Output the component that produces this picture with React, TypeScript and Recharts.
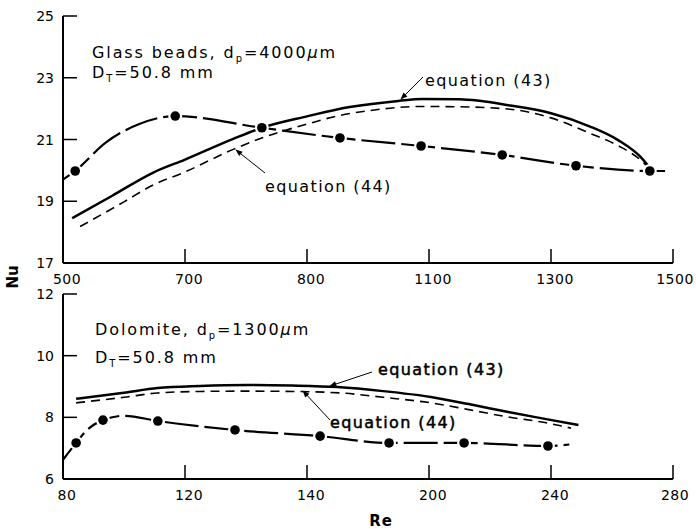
import React from "react";
import { ComposedChart, Line, Scatter, XAxis, YAxis } from "recharts";

// ---- top panel: glass beads, dp = 4000 um ----
const glassTicksX = [500, 700, 900, 1100, 1300, 1500];
const glassTickLabels = ["500", "700", "800", "1100", "1300", "1500"];
const glassTicksY = [17, 19, 21, 23, 25];

const glassEq43Re = [515, 580, 648, 700, 779, 826, 900, 970, 1050, 1089, 1150, 1233, 1300, 1364, 1410, 1446, 1462];
const glassEq43Nu = [18.45, 19.17, 19.93, 20.35, 21.02, 21.38, 21.75, 22.05, 22.25, 22.31, 22.3, 22.1, 21.85, 21.42, 20.98, 20.45, 20.08];

const glassEq44Re = [528, 600, 647, 700, 779, 826, 900, 954, 1000, 1089, 1150, 1233, 1300, 1364, 1410, 1446, 1462];
const glassEq44Nu = [18.18, 18.98, 19.52, 19.95, 20.68, 21.05, 21.5, 21.78, 21.93, 22.07, 22.06, 21.98, 21.7, 21.2, 20.8, 20.35, 20.05];

const glassExpRe = [500, 520, 570, 625, 684, 826, 954, 1087, 1220, 1341, 1462, 1487];
const glassExpNu = [19.7, 19.98, 20.9, 21.5, 21.76, 21.38, 21.05, 20.79, 20.5, 20.15, 19.98, 19.98];
const glassDotRe = [520, 684, 826, 954, 1087, 1220, 1341, 1462];
const glassDotNu = [19.98, 21.76, 21.38, 21.05, 20.79, 20.5, 20.15, 19.98];

// ---- bottom panel: dolomite, dp = 1300 um ----
const doloTicksX = [80, 120, 160, 200, 240, 280];
const doloTickLabels = ["80", "120", "140", "200", "240", "280"];
const doloTicksY = [6, 8, 10, 12];

const doloEq43Re = [84.3, 100, 111, 125, 140.6, 155, 170, 185, 200.6, 213, 226, 238, 249];
const doloEq43Nu = [8.6, 8.8, 8.95, 9.02, 9.05, 9.03, 8.98, 8.85, 8.66, 8.43, 8.17, 7.95, 7.75];

const doloEq44Re = [84.3, 100, 111, 125, 140, 155, 171, 185, 200.6, 213, 226, 238, 246.6];
const doloEq44Nu = [8.47, 8.65, 8.79, 8.84, 8.85, 8.84, 8.79, 8.65, 8.47, 8.25, 8.01, 7.83, 7.65];

const doloExpRe = [80, 84.3, 88, 93.1, 100, 111.1, 136.4, 164.3, 186.9, 211.5, 239, 246];
const doloExpNu = [6.62, 7.17, 7.6, 7.91, 8.05, 7.88, 7.59, 7.39, 7.17, 7.17, 7.07, 7.12];
const doloDotRe = [84.3, 93.1, 111.1, 136.4, 164.3, 186.9, 211.5, 239];
const doloDotNu = [7.17, 7.91, 7.88, 7.59, 7.39, 7.17, 7.17, 7.07];

const pts = (xs: number[], ys: number[]) => xs.map((re, i) => ({ re, nu: ys[i] }));

const FONT = "'DejaVu Sans', sans-serif";

const makeXTick = (ticks: number[], labels: string[]) => (props: any) => {
  const { x, y, payload } = props;
  const i = ticks.indexOf(payload.value);
  const last = i === ticks.length - 1;
  return (
    <g>
      {i > 0 && <line x1={x} y1={y} x2={x} y2={y - 14} stroke="#000" strokeWidth={1.5} />}
      <text x={last ? x + 2 : x + 4} y={y + 21} textAnchor="middle" fontSize={14} fontFamily={FONT} letterSpacing={0.5} fill="#000">
        {labels[i]}
      </text>
    </g>
  );
};

const YTick = (props: any) => {
  const { x, y, payload } = props;
  return (
    <g>
      <line x1={x} y1={y} x2={x + 14} y2={y} stroke="#000" strokeWidth={1.5} />
      <text x={x - 9} y={y + 5} textAnchor="end" fontSize={14} fontFamily={FONT} fill="#000">
        {payload.value}
      </text>
    </g>
  );
};

const Dot = (p: any) => (
  <g>
    <circle cx={p.cx} cy={p.cy} r={7} fill="#fff" />
    <circle cx={p.cx} cy={p.cy} r={4.8} fill="#000" />
  </g>
);

const axisLine = { stroke: "#000", strokeWidth: 2 };

interface PanelProps {
  top: number;
  height: number;
  marginTop: number;
  xAxisHeight: number;
  domainX: number[];
  ticksX: number[];
  labelsX: string[];
  domainY: number[];
  ticksY: number[];
  eq43: { re: number; nu: number }[];
  eq44: { re: number; nu: number }[];
  exp: { re: number; nu: number }[];
  dots: { re: number; nu: number }[];
}

const Panel = (p: PanelProps) => (
  <div style={{ position: "absolute", left: 0, top: p.top }}>
    <ComposedChart width={696} height={p.height} margin={{ top: p.marginTop, right: 23, left: 0, bottom: 0 }}>
      <XAxis
        dataKey="re"
        type="number"
        domain={p.domainX}
        ticks={p.ticksX}
        height={p.xAxisHeight}
        tickSize={0}
        tickMargin={0}
        tickLine={false}
        axisLine={axisLine}
        tick={makeXTick(p.ticksX, p.labelsX)}
        interval={0}
      />
      <YAxis
        dataKey="nu"
        type="number"
        domain={p.domainY}
        ticks={p.ticksY}
        width={63}
        tickSize={0}
        tickMargin={0}
        tickLine={false}
        axisLine={axisLine}
        tick={YTick}
        interval={0}
      />
      <Line data={p.eq43} dataKey="nu" type="monotone" stroke="#000" strokeWidth={2.5} dot={false} isAnimationActive={false} />
      <Line data={p.eq44} dataKey="nu" type="monotone" stroke="#000" strokeWidth={1.6} strokeDasharray="9 6" dot={false} isAnimationActive={false} />
      <Line data={p.exp} dataKey="nu" type="monotone" stroke="#000" strokeWidth={2.2} strokeDasharray="34 6" dot={false} isAnimationActive={false} />
      <Scatter data={p.dots} dataKey="nu" shape={Dot} isAnimationActive={false} />
    </ComposedChart>
  </div>
);

const Sub = ({ children }: { children: string }) => (
  <tspan fontSize={10} dy={4}>{children}</tspan>
);

export default function App() {
  const txt = { fontFamily: FONT, fontSize: 16, letterSpacing: 1.9, fill: "#000" };
  const eqTxt = { fontFamily: FONT, fontSize: 16, letterSpacing: 1.4, fill: "#000" };
  const boldish = { stroke: "#000", strokeWidth: 0.5 };
  return (
    <div style={{ position: "absolute", left: 0, top: 0, width: 696, height: 529, background: "#fff" }}>
      <Panel
        top={0}
        height={290}
        marginTop={16}
        xAxisHeight={27}
        domainX={[500, 1500]}
        ticksX={glassTicksX}
        labelsX={glassTickLabels}
        domainY={[17, 25]}
        ticksY={glassTicksY}
        eq43={pts(glassEq43Re, glassEq43Nu)}
        eq44={pts(glassEq44Re, glassEq44Nu)}
        exp={pts(glassExpRe, glassExpNu)}
        dots={pts(glassDotRe, glassDotNu)}
      />
      <Panel
        top={282}
        height={247}
        marginTop={12}
        xAxisHeight={50}
        domainX={[80, 280]}
        ticksX={doloTicksX}
        labelsX={doloTickLabels}
        domainY={[6, 12]}
        ticksY={doloTicksY}
        eq43={pts(doloEq43Re, doloEq43Nu)}
        eq44={pts(doloEq44Re, doloEq44Nu)}
        exp={pts(doloExpRe, doloExpNu)}
        dots={pts(doloDotRe, doloDotNu)}
      />
      <svg width={696} height={529} style={{ position: "absolute", left: 0, top: 0, pointerEvents: "none" }}>
        <defs>
          <marker id="ah" viewBox="0 0 10 10" refX="9" refY="5" markerWidth="9" markerHeight="7" orient="auto">
            <path d="M0,1 L10,5 L0,9 z" fill="#000" />
          </marker>
        </defs>
        {/* top panel labels */}
        <text x={92} y={58} {...txt}>
          Glass beads, d<Sub>p</Sub>
          <tspan dy={-4}>=4000</tspan>
          <tspan fontStyle="italic">μ</tspan>m
        </text>
        <text x={92} y={78} {...txt}>
          D<Sub>T</Sub>
          <tspan dy={-4}>=50.8 mm</tspan>
        </text>
        <text x={425} y={86} {...eqTxt}>equation (43)</text>
        <line x1={423} y1={77} x2={401} y2={99} stroke="#000" strokeWidth={1} markerEnd="url(#ah)" />
        <text x={265} y={192} {...eqTxt}>equation (44)</text>
        <line x1={265} y1={173} x2={236} y2={150} stroke="#000" strokeWidth={1} markerEnd="url(#ah)" />

        {/* bottom panel labels */}
        <text x={95} y={335} {...txt}>
          Dolomite, d<Sub>p</Sub>
          <tspan dy={-4}>=1300</tspan>
          <tspan fontStyle="italic">μ</tspan>m
        </text>
        <text x={95} y={363} {...txt}>
          D<Sub>T</Sub>
          <tspan dy={-4}>=50.8 mm</tspan>
        </text>
        <text x={378} y={375} {...eqTxt} {...boldish}>equation (43)</text>
        <line x1={372} y1={372} x2={330} y2={386} stroke="#000" strokeWidth={1} markerEnd="url(#ah)" />
        <text x={330} y={428} {...eqTxt} {...boldish}>equation (44)</text>
        <line x1={330} y1={420} x2={303} y2={391} stroke="#000" strokeWidth={1} markerEnd="url(#ah)" />

        {/* axis titles */}
        <text x={0} y={0} transform="translate(18,277) rotate(-90)" textAnchor="middle" fontFamily={FONT} fontSize={15} fontWeight="bold" fill="#000">
          Nu
        </text>
        <text x={381} y={526} textAnchor="middle" fontFamily={FONT} fontSize={15} fontWeight="bold" letterSpacing={1} fill="#000">
          Re
        </text>
      </svg>
    </div>
  );
}
